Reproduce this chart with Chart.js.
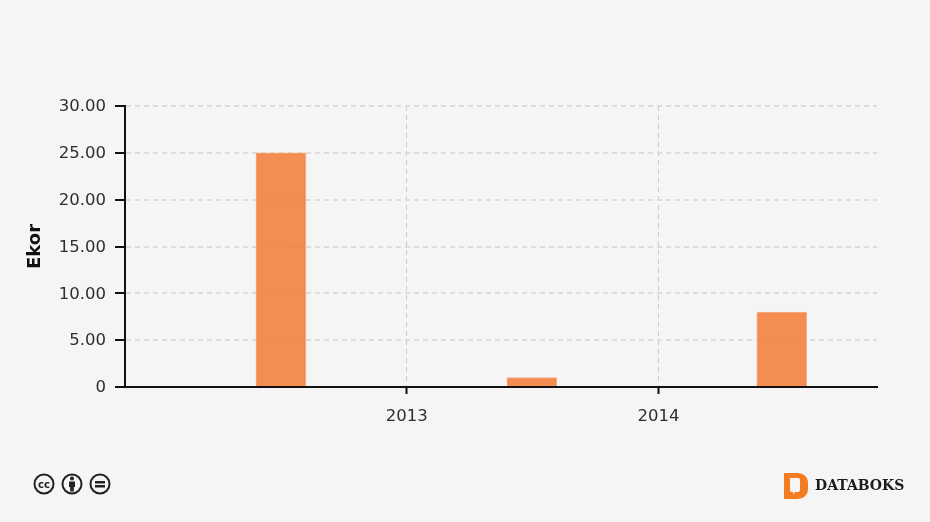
<!DOCTYPE html>
<html>
<head>
<meta charset="utf-8">
<title>Ekor</title>
<script src="https://cdn.jsdelivr.net/npm/chart.js@4/dist/chart.umd.min.js"></script>
<style>
  html, body { margin: 0; padding: 0; background: #f5f5f5; }
  #wrap { position: relative; width: 930px; height: 522px; overflow: hidden; }
  #chart { position: absolute; left: 0; top: 0; }
  #cc { position: absolute; left: 32px; top: 472px; }
  #logo { position: absolute; left: 783px; top: 472px; }
  #brand { position: absolute; left: 815px; top: 477px; font: bold 14px "DejaVu Serif", serif; color: #1c1c1c; }
</style>
</head>
<body>
<div id="wrap">
  <canvas id="chart" width="930" height="522"></canvas>
  <svg id="cc" width="82" height="24" viewBox="0 0 82 24">
    <g fill="#f5f5f5" stroke="#222" stroke-width="2">
      <circle cx="12" cy="12" r="9.500"/>
      <circle cx="40" cy="12" r="9.500"/>
      <circle cx="68" cy="12" r="9.500"/>
    </g>
    <text x="12" y="15.500" text-anchor="middle" font-family="DejaVu Sans" font-weight="bold" font-size="10" fill="#222">cc</text>
    <circle cx="40" cy="6.500" r="2" fill="#222"/>
    <path d="M37 9.500h6v5.500h-1.200v4.500h-3.600v-4.500H37z" fill="#222"/>
    <path d="M63 9h10v2.400H63zM63 13h10v2.400H63z" fill="#222"/>
  </svg>
  <svg id="logo" width="26" height="28" viewBox="0 0 26 28">
    <path d="M1 1h13c6.500 0 11 4 11 10v6c0 6-4.500 10-11 10H1z" fill="#f47c20"/>
    <path d="M7 6h8c1.200 0 2 .8 2 2v10c0 1.200-.8 2-2 2h-3l-2 2.500V20H9c-1.200 0-2-.8-2-2z" fill="#f5f5f5"/>
  </svg>
  <div id="brand">DATABOKS</div>
</div>
<script>
const years = [2012.501, 2013.497, 2014.489];
const values = [25, 1, 8];
const xTicks = [2013, 2014];
const yTicks = [0, 5, 10, 15, 20, 25, 30];
const yLabel = "Ekor";

const textColor = "#2e2e2e";
const font = { family: "'DejaVu Sans', Verdana, sans-serif", size: 16.5 };

new Chart(document.getElementById("chart").getContext("2d"), {
  type: "bar",
  data: {
    datasets: [{
      data: years.map((y, i) => ({ x: y, y: values[i] })),
      backgroundColor: "rgba(243,122,52,0.85)",
      borderColor: "rgba(245,175,135,0.9)",
      borderWidth: 1,
      barThickness: 50
    }]
  },
  options: {
    responsive: false,
    animation: false,
    layout: { padding: { left: 25, top: 106, right: 53, bottom: 0 } },
    plugins: { legend: { display: false }, tooltip: { enabled: false } },
    scales: {
      x: {
        type: "linear",
        offset: false,
        min: 2011.882,
        max: 2014.867,
        afterBuildTicks: (scale) => { scale.ticks = xTicks.map((v) => ({ value: v })); },
        afterFit: (scale) => { scale.height = 135; },
        ticks: {
          autoSkip: false,
          maxRotation: 0,
          color: textColor,
          font,
          padding: 13,
          callback: (v) => String(v)
        },
        grid: {
          offset: false,
          color: "#cacaca",
          lineWidth: 1,
          tickColor: "#111111",
          tickWidth: 2,
          tickLength: 7,
          tickBorderDash: []
        },
        border: { color: "#111111", width: 2, dash: [5, 4], z: 1 }
      },
      y: {
        min: 0,
        max: 30,
        afterBuildTicks: (scale) => { scale.ticks = yTicks.map((v) => ({ value: v })); },
        afterFit: (scale) => { scale.width = 100; },
        title: { display: true, text: yLabel, color: "#111111", padding: 0, font: { family: font.family, size: 18, weight: "bold" } },
        ticks: {
          color: textColor,
          font,
          padding: 9,
          labelOffset: 1,
          callback: (v) => (v === 0 ? "0" : v.toFixed(2))
        },
        grid: {
          color: "#dcdcdc",
          lineWidth: 2,
          tickColor: "#111111",
          tickWidth: 2,
          tickLength: 10,
          tickBorderDash: []
        },
        border: { color: "#111111", width: 2, dash: [5, 4], z: 1 }
      }
    }
  }
});
</script>
</body>
</html>
